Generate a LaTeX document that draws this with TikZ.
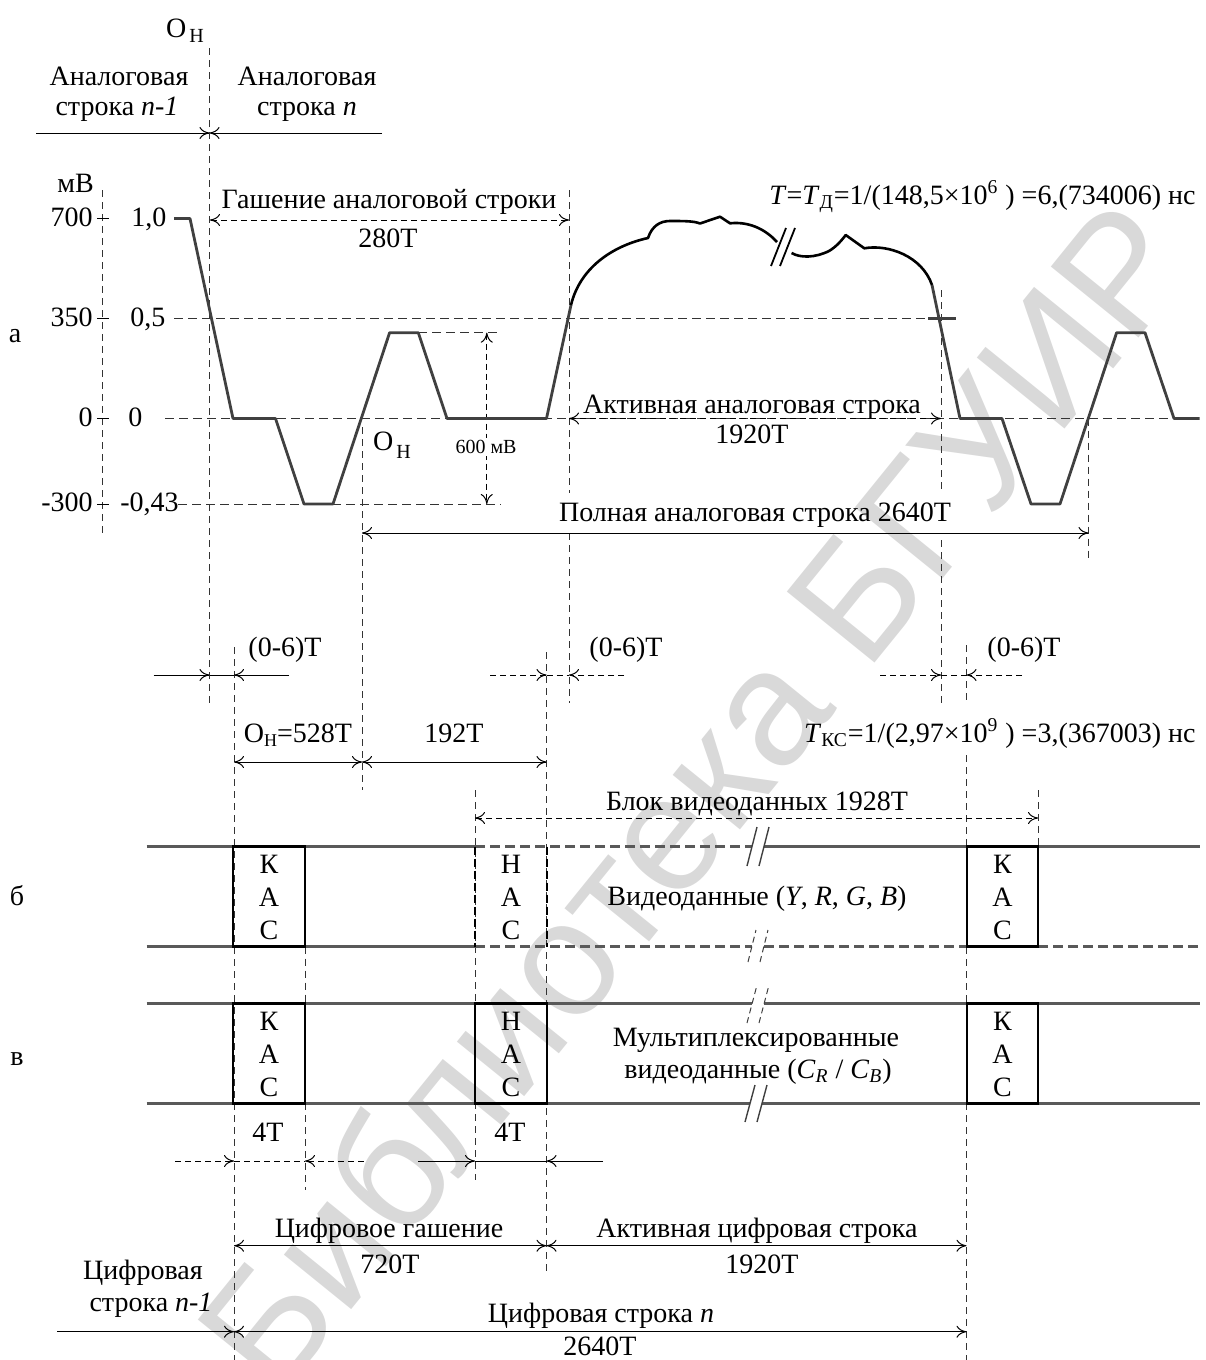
\documentclass[tikz,border=0pt]{standalone}
\usepackage{fontspec}
\setmainfont{Liberation Serif}
\newfontfamily\wmfont{Liberation Sans}
\usetikzlibrary{arrows.meta}
\tikzset{
 lbl/.style={font=\fontsize{14}{16}\selectfont, inner sep=0pt, anchor=base},
 guide/.style={line width=0.5pt, draw=black!80, dash pattern=on 3.5pt off 2.5pt},
 lvl/.style={line width=0.5pt, draw=black!80, dash pattern=on 4.5pt off 2.5pt},
 dimsolid/.style={line width=0.5pt, draw=black},
 dimdash/.style={line width=0.5pt, draw=black, dash pattern=on 3pt off 2pt},
 onetip/.style={-{Computer Modern Rightarrow[length=5pt,width=6pt]}},
 twotips/.style={{Computer Modern Rightarrow[length=5pt,width=6pt]}-{Computer Modern Rightarrow[length=5pt,width=6pt]}},
 sig/.style={line width=1.4pt, draw=black!75, line join=round},
 actcurve/.style={line width=1.3pt, draw=black, line join=round},
 rowline/.style={line width=1.3pt, draw=black!65},
 rowdash/.style={line width=1.3pt, draw=black!65, dash pattern=on 5pt off 2.5pt},
 boxsolid/.style={line width=1.3pt, draw=black},
 boxdash/.style={line width=1.3pt, draw=black, dash pattern=on 4pt off 2pt},
 brk/.style={line width=0.7pt, draw=black!75},
 brkdash/.style={line width=0.5pt, draw=black!75, dash pattern=on 3pt off 2pt},
}
\begin{document}
\begin{tikzpicture}[x=0.5pt,y=-0.5pt]
\useasboundingbox (0,0) rectangle (1205,1360);

% watermark
\node[font=\wmfont\fontsize{82}{90}\selectfont, text=gray!30, rotate=51, inner sep=0pt] (wm) at (692,795) {Библиотека БГУИР};

% ---------- top labels ----------
\node[lbl] (ohtop) at (185,37) {O\hspace{1.5pt}\raisebox{-2.5pt}{\fontsize{10}{12}\selectfont Н}};
\node[lbl] (an1a) at (119,85) {Аналоговая};
\node[lbl] (an1b) at (117,115) {строка \textit{n-1}};
\node[lbl] (an2a) at (307,85) {Аналоговая};
\node[lbl] (an2b) at (307,115) {строка \textit{n}};
\coordinate (ohL) at (36,133); \coordinate (ohM) at (209.5,133); \coordinate (ohR) at (382,133);
\draw[dimsolid,onetip] (ohL) -- (ohM);
\draw[dimsolid,onetip] (ohR) -- (ohM);

% ---------- guides ----------
\draw[guide] (209.5,48) -- (209.5,703);
\draw[guide] (102.6,190) -- (102.6,533);
\draw[guide] (569,190) -- (569,493) (569,533) -- (569,703);
\draw[guide] (941,290) -- (941,493) (941,540) -- (941,703);
\draw[guide] (362,427) -- (362,790);
\draw[guide] (1088.5,418.5) -- (1088.5,562);
\draw[guide] (234,647) -- (234,1360);
\draw[guide] (546.5,652) -- (546.5,1273);
\draw[guide] (966.5,645) -- (966.5,703) (966.5,755) -- (966.5,1360);
\draw[guide] (475,790) -- (475,1180);
\draw[guide] (1038,790) -- (1038,847);
\draw[guide] (305,946.7) -- (305,1003.3) (305,1103.3) -- (305,1190);

% level lines
\draw[lvl] (174,318.5) -- (956,318.5);
\draw[lvl] (165,418.5) -- (1200,418.5);
\draw[lvl] (178,504) -- (501,504);
\draw[lvl] (418,332.7) -- (500,332.7);

% axis ticks and labels
\foreach \yy in {218.5,318.5,418.5,504} \draw[dimsolid] (97,\yy) -- (109,\yy);
\node[lbl] (mv) at (75.5,192) {мВ};
\node[lbl,anchor=base east] (v700) at (93,226) {700};
\node[lbl,anchor=base east] (v350) at (93,326) {350};
\node[lbl,anchor=base east] (v0) at (93,426) {0};
\node[lbl,anchor=base east] (vm300) at (93,511.5) {-300};
\node[lbl,anchor=base west] (r10) at (131,226) {1,0};
\node[lbl,anchor=base west] (r05) at (130,326) {0,5};
\node[lbl,anchor=base west] (r0) at (128,426) {0};
\node[lbl,anchor=base west] (rm43) at (120,511.5) {-0,43};
\node[lbl] (lba) at (15,342) {а};

% 600 mV dimension
\draw[dimdash,twotips] (486.8,332.7) -- (486.8,504);
\node[font=\fontsize{10}{12}\selectfont, fill=white, inner sep=1pt] (mv600) at (486,447) {600 мВ};
\node[lbl] (ohlow) at (392,450) {O\hspace{1.5pt}\raisebox{-4pt}{\fontsize{10}{12}\selectfont Н}};

% signal (gray parts)
\draw[sig] (174,218.5) -- (190,218.5) -- (233,418.5) -- (275.5,418.5) -- (304,504) -- (333,504)
  -- (389.6,332.7) -- (418.3,332.7) -- (447,418.5) -- (546.5,418.5) -- (571,305);
\draw[sig] (932,285) -- (960,418.5) -- (1002,418.5) -- (1031,504) -- (1060,504) -- (1116.6,332.7)
  -- (1145,332.7) -- (1174,418.5) -- (1199.5,418.5);
\draw[sig,line width=1.2pt] (928,318.5) -- (956,318.5);
% active curve (black)
\draw[actcurve] (571,305) .. controls (580,268) and (612,246) .. (648,238)
  .. controls (652,226) and (660,221) .. (670,221)
  .. controls (684,221) and (694,221) .. (700,223.5)
  -- (720,216.7) -- (730,223.3)
  .. controls (752,221) and (768,232) .. (777,242);
\draw[actcurve] (791.6,253) .. controls (800,258) and (815,258) .. (829,251)
  .. controls (836,247) and (842,240) .. (845.7,235) -- (864.3,248.3)
  .. controls (888,244) and (922,256) .. (932,285);
\draw[line width=0.9pt] (771,266) -- (786,228) (780,266) -- (795,228);

% Gashenie
\draw[dimdash,twotips] (210,220) -- (569,220);
\node[lbl] (gash) at (389,208) {Гашение аналоговой строки};
\node[lbl] (g280) at (388,247) {280Т};
\node[lbl,anchor=base east] (tform) at (1196,204) {\textit{T}=\textit{T}\textsubscript{Д}=1/(148,5×10\textsuperscript{6} ) =6,(734006) нс};

% active analog line
\draw[dimdash,twotips] (569,418.5) -- (941,418.5);
\node[lbl] (actan) at (752,413) {Активная аналоговая строка};
\node[lbl] (act1920) at (752,443) {1920Т};

% full analog line
\draw[dimsolid,twotips] (362,533) -- (1088.5,533);
\node[lbl] (full) at (755,521) {Полная аналоговая строка 2640Т};

% (0-6)T
\node[lbl] (d06a) at (285,656) {(0-6)Т};
\node[lbl] (d06b) at (626,656) {(0-6)Т};
\node[lbl] (d06c) at (1024,656) {(0-6)Т};
\draw[dimsolid,onetip] (153.6,675) -- (209.5,675);
\draw[dimsolid,onetip] (289,675) -- (234,675);
\draw[dimsolid] (209.5,675) -- (234,675);
\draw[dimdash,onetip] (490,675) -- (546.5,675);
\draw[dimdash,onetip] (624,675) -- (569,675);
\draw[dimdash] (546.5,675) -- (569,675);
\draw[dimdash,onetip] (880,675) -- (941,675);
\draw[dimdash,onetip] (1022,675) -- (966.5,675);
\draw[dimdash] (941,675) -- (966.5,675);

% O_H = 528T, 192T
\node[lbl] (oh528) at (298,742) {O\raisebox{-2pt}{\fontsize{9}{10}\selectfont Н}=528Т};
\node[lbl] (t192) at (454,742) {192Т};
\node[lbl,anchor=base east] (tks) at (1196,742) {\textit{T}\textsubscript{КС}=1/(2,97×10\textsuperscript{9} ) =3,(367003) нс};
\draw[dimsolid,twotips] (234,762) -- (362,762);
\draw[dimsolid,twotips] (362,762) -- (546.5,762);

% block of video data
\node[lbl] (blok) at (757,810) {Блок видеоданных 1928Т};
\draw[dimdash,twotips] (475,818) -- (1038,818);

% ---------- row b ----------
\draw[rowline] (146.7,846.7) -- (475,846.7) (764,846.7) -- (1200,846.7);
\draw[rowdash] (475,846.7) -- (752,846.7);
\draw[rowline] (146.7,946.7) -- (475,946.7);
\draw[rowdash] (475,946.7) -- (752,946.7) (764,946.7) -- (967,946.7) (1038,946.7) -- (1200,946.7);
\draw[boxsolid] (233,846.7) rectangle (305,946.7);
\draw[boxdash] (475,846.7) -- (475,946.7) (547,846.7) -- (547,946.7);
\draw[boxsolid] (967,846.7) rectangle (1038,946.7);
\node[lbl] (kb1k) at (269,873) {К}; \node[lbl] (kb1a) at (269,906) {А}; \node[lbl] (kb1c) at (269,939) {С};
\node[lbl] (hbn) at (511,873) {Н}; \node[lbl] (hba) at (511,906) {А}; \node[lbl] (hbc) at (511,939) {С};
\node[lbl] (kb2k) at (1002.5,873) {К}; \node[lbl] (kb2a) at (1002.5,906) {А}; \node[lbl] (kb2c) at (1002.5,939) {С};
\node[lbl] (vid) at (757,905) {Видеоданные (\textit{Y}, \textit{R}, \textit{G}, \textit{B})};
\node[lbl] (lbb) at (17,905) {б};
\draw[brk] (747,866) -- (757,827) (759,866) -- (769,827);
\draw[brkdash] (748,962) -- (756,930) (760,962) -- (768,930);

% ---------- row v ----------
\draw[rowline] (146.7,1003.3) -- (752,1003.3) (764,1003.3) -- (1200,1003.3);
\draw[rowline] (146.7,1103.3) -- (750,1103.3) (762,1103.3) -- (1200,1103.3);
\draw[boxsolid] (233,1003.3) rectangle (305,1103.3);
\draw[boxsolid] (475,1003.3) rectangle (547,1103.3);
\draw[boxsolid] (967,1003.3) rectangle (1038,1103.3);
\node[lbl] (kv1k) at (269,1030) {К}; \node[lbl] (kv1a) at (269,1063) {А}; \node[lbl] (kv1c) at (269,1096) {С};
\node[lbl] (hvn) at (511,1030) {Н}; \node[lbl] (hva) at (511,1063) {А}; \node[lbl] (hvc) at (511,1096) {С};
\node[lbl] (kv2k) at (1002.5,1030) {К}; \node[lbl] (kv2a) at (1002.5,1063) {А}; \node[lbl] (kv2c) at (1002.5,1096) {С};
\node[lbl] (mux1) at (756,1046) {Мультиплексированные};
\node[lbl] (mux2) at (758,1078) {видеоданные (\textit{C}\textsubscript{\textit{R}} / \textit{C}\textsubscript{\textit{B}})};
\node[lbl] (lbv) at (17,1065) {в};
\draw[brkdash] (747,1023) -- (757,985) (759,1023) -- (769,985);
\draw[brk] (745,1122) -- (755,1085) (757,1122) -- (767,1085);

% ---------- 4T ----------
\node[lbl] (t4a) at (268,1141) {4Т};
\node[lbl] (t4b) at (510,1141) {4Т};
\draw[dimdash,onetip] (175,1161) -- (234,1161);
\draw[dimdash,onetip] (363.5,1161) -- (305,1161);
\draw[dimdash] (234,1161) -- (305,1161);
\draw[dimsolid,onetip] (418,1161) -- (475,1161);
\draw[dimsolid,onetip] (603,1161) -- (546.5,1161);
\draw[dimsolid] (475,1161) -- (546.5,1161);

% ---------- digital line ----------
\node[lbl] (digbl) at (389,1237) {Цифровое гашение};
\node[lbl] (d720) at (390,1273) {720Т};
\draw[dimsolid,twotips] (234,1245.7) -- (546.5,1245.7);
\draw[dimsolid,twotips] (546.5,1245.7) -- (966.5,1245.7);
\node[lbl] (digact) at (757,1237) {Активная цифровая строка};
\node[lbl] (d1920) at (762,1273) {1920Т};
\node[lbl] (dprev1) at (143,1279) {Цифровая};
\node[lbl] (dprev2) at (151,1311) {строка \textit{n-1}};
\node[lbl] (dcur) at (601,1322) {Цифровая строка \textit{n}};
\node[lbl] (d2640) at (600,1355) {2640Т};
\draw[dimsolid,onetip] (57,1331.7) -- (234,1331.7);
\draw[dimsolid,twotips] (234,1331.7) -- (966.5,1331.7);
\end{tikzpicture}
\end{document}
